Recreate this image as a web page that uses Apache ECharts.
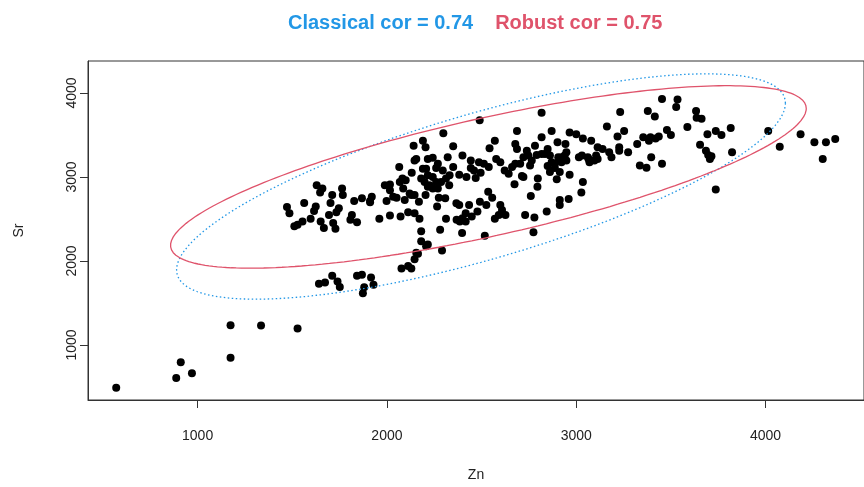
<!DOCTYPE html>
<html>
<head>
<meta charset="utf-8">
<script src="https://cdn.jsdelivr.net/npm/echarts@6/dist/echarts.min.js"></script>
<style>
html,body{margin:0;padding:0;background:#fff;}
#chart{width:864px;height:487px;}
</style>
</head>
<body>
<div id="chart"></div>
<script>
// Scatter data: Zn (x) and Sr (y)
const zn = [570,887,911,970,1174,1174,1335,1528,1641,1673,1711,1739,1751,1842,1868,1916,1880,1873,1929,
2077,2112,2129,2146,2164,2181,2216,2291,2181,2281,2397,2517,2774,2207,2155,
1629,1659,1763,1647,1711,1767,1472,1563,1624,1615,1702,1746,1733,1485,1827,1868,1911,1998,2051,2094,2129,2112,2146,
1511,1554,1597,1650,1694,1716,1667,1728,1815,1842,1807,1960,2016,2072,1528,
2141,2146,2065,2131,2082,2099,2016,
2490,2817,2298,2687,2870,2965,3000,3035,3079,2817,2190,2204,2350,2570,2542,2678,2687,2782,2739,2901,2943,3113,3139,
3162,3232,3253,3218,3227,3227,3274,3174,3186,3105,3065,3030,3014,3113,3322,3354,3384,3436,3419,3378,3415,3396,3336,3371,3453,3453,
2155,2216,2242,2207,2269,2321,2350,2295,2399,2443,2486,2512,2460,2495,2420,2382,2577,2599,2538,2622,2643,2661,2704,2721,2747,2765,2756,2713,
2791,2817,2849,2861,2870,2849,2887,2905,2922,2939,2948,2861,2913,2965,2897,2797,2795,2674,2760,3035,3027,2913,2913,2960,2844,2730,2779,
1920,1911,2033,2068,1989,2016,2086,2120,2146,2169,2204,2242,2260,2286,2312,2329,2269,2274,2308,2265,2216,2199,2216,
2382,2434,2491,2535,2556,2599,2608,2591,2626,2570,2478,2416,2399,2368,2385,2416,2448,2312,2172,2367,2525,
2181,2225,2331,2242,2260,2443,2469,2678,2721,2835,2190,3061,3070,3096,2948,2922,3392,3479,3500,2887,
3535,3528,3633,3636,3662,3587,3693,3737,3767,3816,3654,3685,3697,3714,3706,3823,3737,4014,4075,4185,4258,4319,4368,4302];
const sr = [490,607,795,662,1235,847,1231,1195,1729,1745,1823,1756,1689,1823,1835,1803,1686,1615,1718,
1909,1941,1909,2019,2086,2235,2195,2125,2353,2372,2333,2301,2341,2176,2098,
2901,2862,2862,2815,2784,2784,2642,2689,2647,2595,2689,2627,2580,2568,2713,2745,2713,2713,2753,2725,2784,2580,2568,
2412,2471,2501,2471,2548,2451,2392,2384,2548,2462,2489,2501,2541,2529,2431,
3372,3195,3118,3051,2980,2960,2909,
3674,3765,3521,3548,3548,3529,3509,3459,3431,3471,3431,3353,3365,3431,3341,3392,3333,3372,3313,3412,3392,3353,3333,
3600,3772,3548,3482,3353,3313,3294,3294,3235,3254,3215,3254,3235,3215,3392,3471,3431,3482,3459,3784,3718,3235,3136,3109,3156,3929,
3215,3215,3227,3098,3156,3235,3118,3078,3254,3195,3176,3156,3078,3051,3000,3027,3215,3176,3118,3078,3039,3118,3156,3235,3254,3195,3136,3012,
3262,3274,3333,3254,3176,3129,3156,3235,3176,3254,3195,3059,3059,3027,2972,2980,2882,2913,2772,2941,2815,2725,2666,2736,2588,2548,2518,
2765,2698,2765,2941,2901,2842,2862,2804,2784,2706,2784,2862,2941,2941,2980,2901,2862,2753,2745,2647,3019,2941,2882,
2666,2666,2706,2824,2753,2666,2607,2548,2548,2501,2588,2568,2509,2489,2471,2471,2529,2501,2501,2686,2666,
2980,2901,3019,3000,3106,3106,2988,3156,3000,3274,3098,3235,3176,3195,3294,3235,3471,3560,3498,3106,
3921,3831,3784,3706,3694,3595,3509,3548,3498,3584,3384,3313,3262,3247,3215,3294,2851,3548,3360,3509,3412,3412,3451,3215];

// Tick values
const xTicks = [1000, 2000, 3000, 4000];
const yTicks = [1000, 2000, 3000, 4000];

// Ellipse parameters: center [Zn, Sr], half extents [Zn, Sr], correlation
const classicalCenter = [2497, 2886];
const classicalHalf = [1608, 1341];
const classicalCor = 0.74;
const robustCenter = [2536, 3000];
const robustHalf = [1679, 1086];
const robustCor = 0.75;

function ellipse(c, h, r) {
  const out = [];
  const phi = Math.acos(r);
  const n = 240;
  for (let i = 0; i <= n; i++) {
    const t = 2 * Math.PI * i / n;
    out.push([c[0] + h[0] * Math.cos(t), c[1] + h[1] * Math.cos(t - phi)]);
  }
  return out;
}

const points = zn.map((x, i) => [x, sr[i]]);
const FONT = "'Liberation Sans', Arial, sans-serif";

const chart = echarts.init(document.getElementById('chart'), null, {renderer: 'canvas'});
chart.setOption({
  animation: false,
  backgroundColor: '#ffffff',
  title: {
    text: '{a|Classical cor = ' + classicalCor.toFixed(2) + '}{b|Robust cor = ' + robustCor.toFixed(2) + '}',
    left: 283,
    top: 8,
    textStyle: {
      rich: {
        a: {color: '#2297E6', fontSize: 20, fontWeight: 'bold', fontFamily: FONT, padding: [0, 22, 0, 0]},
        b: {color: '#DF536B', fontSize: 20, fontWeight: 'bold', fontFamily: FONT}
      }
    }
  },
  grid: {
    left: 88, right: -8.5, top: 61, bottom: 83,
    show: true, borderColor: '#333', borderWidth: 1, backgroundColor: 'transparent'
  },
  xAxis: {
    type: 'value', min: 421, max: 4520,
    name: 'Zn', nameLocation: 'middle', nameGap: 68,
    nameTextStyle: {fontSize: 14, color: '#222', fontFamily: FONT},
    axisLine: {show: true, onZero: false, lineStyle: {color: '#333', width: 1}},
    axisTick: {show: true, length: 8, customValues: xTicks, lineStyle: {color: '#333'}},
    axisLabel: {customValues: xTicks, fontSize: 14, color: '#222', fontFamily: FONT, margin: 29,
      formatter: v => String(v)},
    splitLine: {show: false}
  },
  yAxis: {
    type: 'value', min: 345, max: 4380,
    name: 'Sr', nameLocation: 'middle', nameGap: 62, nameRotate: 90,
    nameTextStyle: {fontSize: 14, color: '#222', fontFamily: FONT},
    axisLine: {show: true, onZero: false, lineStyle: {color: '#333', width: 1}},
    axisTick: {show: true, length: 8, customValues: yTicks, lineStyle: {color: '#333'}},
    axisLabel: {customValues: yTicks, fontSize: 14, color: '#222', fontFamily: FONT, rotate: 90, margin: 9,
      formatter: v => String(v)},
    splitLine: {show: false}
  },
  series: [
    {
      type: 'scatter', data: points, symbol: 'circle', symbolSize: 8,
      itemStyle: {color: '#000', opacity: 1}, z: 2
    },
    {
      type: 'line', data: ellipse(classicalCenter, classicalHalf, classicalCor),
      showSymbol: false, symbol: 'none', smooth: false,
      lineStyle: {color: '#2297E6', width: 1.3, type: [1.5, 2.5]}, z: 3
    },
    {
      type: 'line', data: ellipse(robustCenter, robustHalf, robustCor),
      showSymbol: false, symbol: 'none', smooth: false,
      lineStyle: {color: '#DF536B', width: 1.3, type: 'solid'}, z: 3
    }
  ]
});
</script>
</body>
</html>
